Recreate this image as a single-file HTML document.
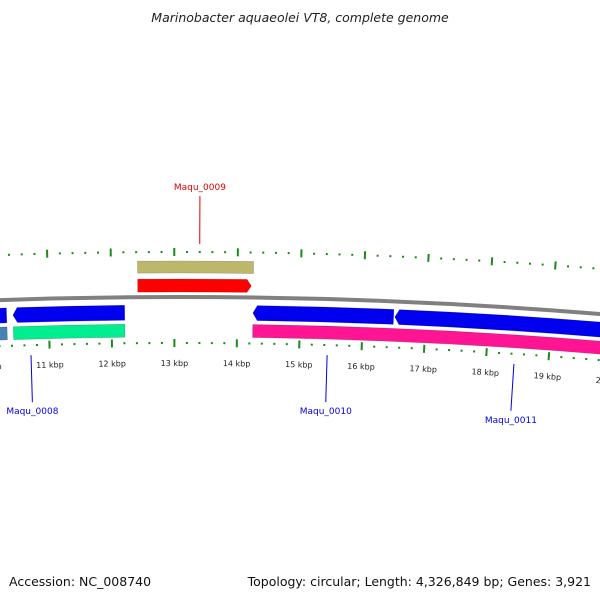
<!DOCTYPE html>
<html><head><meta charset="utf-8"><style>
body{margin:0;background:#fff;width:600px;height:600px;overflow:hidden}
svg{display:block;font-family:"DejaVu Sans","Liberation Sans",sans-serif}
</style></head><body>
<svg id="map" width="600" height="600" viewBox="0 0 600 600" xmlns="http://www.w3.org/2000/svg">
<text x="300" y="22" text-anchor="middle" font-size="12.5" font-style="italic" fill="#222">Marinobacter aquaeolei VT8, complete genome</text>
<text x="9" y="586" font-size="12.5" fill="#111">Accession: NC_008740</text>
<text x="591" y="586" text-anchor="end" font-size="12.5" fill="#111">Topology: circular; Length: 4,326,849 bp; Genes: 3,921</text>
</svg>
<script>
// data
const tickKbp = [10,11,12,13,14,15,16,17,18,19,20,21];
const tickLabels = ["10 kbp","11 kbp","12 kbp","13 kbp","14 kbp","15 kbp","16 kbp","17 kbp","18 kbp","19 kbp","20 kbp","21 kbp"];
const featNames = ["olive-feature","red-gene","blue-gene-a","blue-gene-b","blue-gene-c","blue-gene-d","steelblue-feature","green-feature","pink-feature"];
const featStart = [12.42,12.42,9.8,10.43,14.25,16.51,9.8,10.43,14.25];
const featEnd   = [14.25,14.22,10.33,12.21,16.49,20.5,10.33,12.21,20.5];
const featTrack = [0,1,2,2,2,2,3,3,3];
const featArrow = [0,1,0,-1,-1,-1,0,0,0];
const featColor = ["#bdb76b","#ff0000","#0000ee","#0000ee","#0000ee","#0000ee","#4682b4","#00ee8f","#ff1493"];
const geneLabels = ["Maqu_0009","Maqu_0008","Maqu_0010","Maqu_0011"];
const geneLabelKbp = [13.4,10.7,15.45,18.45];
const geneLabelColor = ["#dd0000","#0000dd","#0000dd","#0000dd"];
const geneLabelOuter = [true,false,false,false];

// geometry
const CX=180, CY=5497, K0=13.09, A=0.01212;
const trackR=[[5236,5224],[5218,5205],[5192,5177],[5173,5160]];
const ns="http://www.w3.org/2000/svg";
const svg=document.getElementById('map');
function ang(k){return (k-K0)*A;}
function pt(k,r){const a=ang(k);return [CX+r*Math.sin(a),CY-r*Math.cos(a)];}
function mk(tag,attrs){const e=document.createElementNS(ns,tag);for(const k in attrs)e.setAttribute(k,attrs[k]);svg.appendChild(e);return e;}

// backbone
{const p1=pt(8,5200),p2=pt(22,5200);
const bb=mk('path',{d:`M${p1[0]},${p1[1]} A5200,5200 0 0 1 ${p2[0]},${p2[1]}`,fill:'none',stroke:'#808080','stroke-width':4});

}

// features
featNames.forEach((n,i)=>{
  const [ro,ri]=trackR[featTrack[i]];const rm=(ro+ri)/2;
  let s=featStart[i],e=featEnd[i];const ah=0.07;
  let d;
  const arc=(k1,k2,r,sw)=>{const p=pt(k2,r);return `A${r},${r} 0 0 ${sw} ${p[0]},${p[1]}`;};
  if(featArrow[i]===1){
    const a=pt(s,ro),b=pt(e-ah,ro),c=pt(e,rm),d2=pt(e-ah,ri),f=pt(s,ri);
    d=`M${a[0]},${a[1]} ${arc(s,e-ah,ro,1)} L${c[0]},${c[1]} L${d2[0]},${d2[1]} ${arc(e-ah,s,ri,0)} Z`;
  }else if(featArrow[i]===-1){
    const c=pt(s,rm),a=pt(s+ah,ro),f=pt(s+ah,ri);
    d=`M${c[0]},${c[1]} L${a[0]},${a[1]} ${arc(s+ah,e,ro,1)} L${pt(e,ri)[0]},${pt(e,ri)[1]} ${arc(e,s+ah,ri,0)} Z`;
  }else{
    const a=pt(s,ro);
    d=`M${a[0]},${a[1]} ${arc(s,e,ro,1)} L${pt(e,ri)[0]},${pt(e,ri)[1]} ${arc(e,s,ri,0)} Z`;
  }
  const el=mk('path',{d:d,fill:featColor[i],stroke:'rgba(0,0,0,0.25)','stroke-width':0.6});
  
  
});

// ticks
for(let k=9.6;k<=21.4;k+=0.2){
  const kk=Math.round(k*10)/10;const major=Math.abs(kk-Math.round(kk))<0.01;
  [[5245,'outer'],[5154,'inner']].forEach(([r,w])=>{
    const len=major?8:2;
    const p1=pt(kk,r-len/2),p2=pt(kk,r+len/2);
    const t=mk('line',{x1:p1[0],y1:p1[1],x2:p2[0],y2:p2[1],stroke:'#1a8a1a','stroke-width':2});
    
    
  });
}
tickKbp.forEach((k,i)=>{
  const p=pt(k,5131);
  const t=mk('text',{x:p[0],y:p[1],'text-anchor':'middle','font-size':8,fill:'#222',transform:`rotate(${ang(k)*180/Math.PI} ${p[0]} ${p[1]})`});
  t.textContent=tickLabels[i];
  
  
});

// gene labels
geneLabels.forEach((n,i)=>{
  const k=geneLabelKbp[i];
  let p1,p2,ty;
  if(geneLabelOuter[i]){p1=pt(k,5253);p2=pt(k,5301);ty=p2[1]-6;}
  else{p1=pt(k,5144);p2=pt(k,5097);ty=p2[1]+12;}
  const l=mk('line',{x1:p1[0],y1:p1[1],x2:p2[0],y2:p2[1],stroke:geneLabelColor[i],'stroke-width':1});
  
  
  const t=mk('text',{x:p2[0],y:ty,'text-anchor':'middle','font-size':9,fill:geneLabelColor[i]});
  t.textContent=n;
  
  
});
</script>
</body></html>
